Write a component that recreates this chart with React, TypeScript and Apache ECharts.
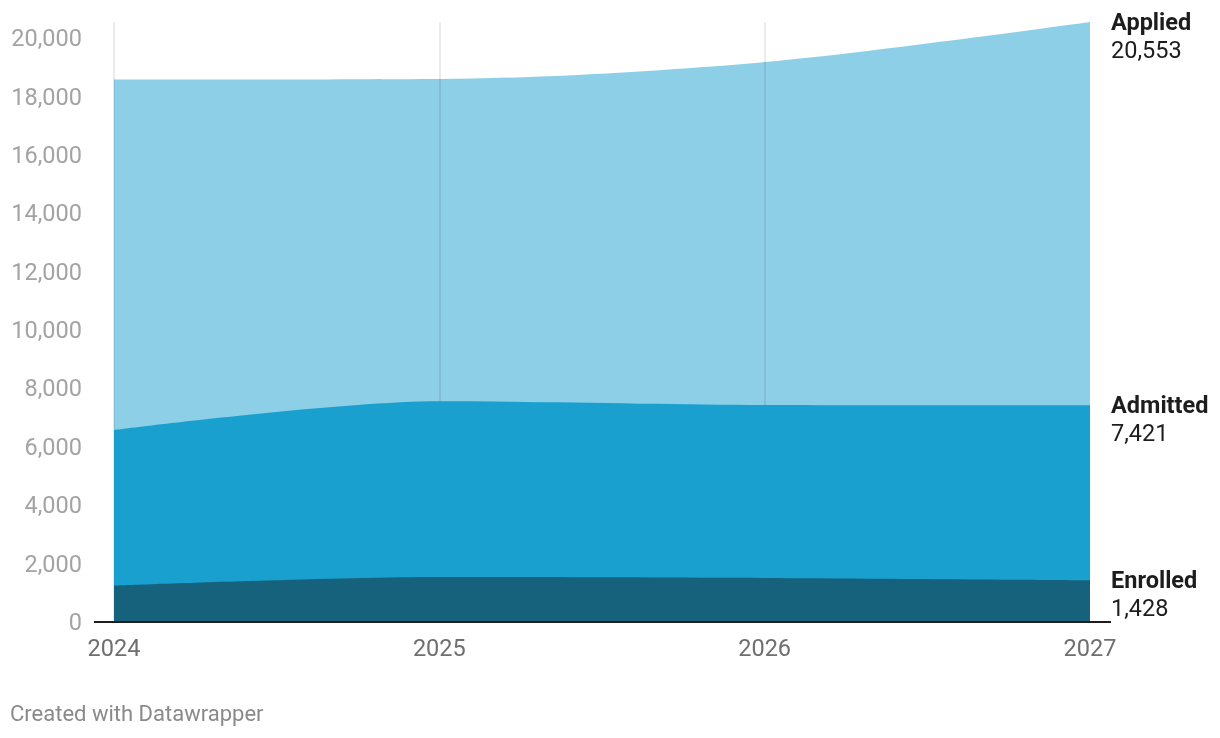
import React, { useEffect, useRef } from "react";
import * as echarts from "echarts";

const years = ["2024", "2025", "2026", "2027"];
const applied = [18580, 18600, 19180, 20553];
const admitted = [6577, 7560, 7433, 7421];
const enrolled = [1243, 1541, 1507, 1428];
const seriesNames = ["Applied", "Admitted", "Enrolled"];
const yTicks = [0, 2000, 4000, 6000, 8000, 10000, 12000, 14000, 16000, 18000, 20000];

const COLORS = ["#8ccfe6", "#19a0ce", "#16627c"];
const FONT = "Roboto";

export default function App() {
  const ref = useRef<HTMLDivElement>(null);
  useEffect(() => {
    if (!ref.current) return;
    const chart = echarts.init(ref.current, null, { renderer: "svg" });
    const values = [applied, admitted, enrolled];
    const fmt = (v: number) => v.toLocaleString("en-US");
    const series: any[] = values.map((vals, i) => ({
      name: seriesNames[i],
      type: "line",
      data: vals,
      smooth: 0.3,
      symbol: "none",
      z: i === 0 ? 1 : 2 + i,
      lineStyle: { width: 0 },
      areaStyle: { color: COLORS[i], opacity: 1 },
      endLabel: {
        show: true,
        distance: 21,
        offset: [0, 14],
        formatter: () => `{a|${seriesNames[i]}}\n{b|${fmt(vals[vals.length - 1])}}`,
        rich: {
          a: { fontFamily: FONT, fontSize: 23.5, fontWeight: "bold", color: "#1d1d1d", lineHeight: 28 },
          b: { fontFamily: FONT, fontSize: 23.5, color: "#1d1d1d", lineHeight: 28 },
        },
        align: "left",
        verticalAlign: "middle",
      },
      markLine:
        i === 0
          ? {
              silent: true,
              z: 2,
              symbol: "none",
              label: { show: false },
              lineStyle: { color: "rgba(0,0,0,0.08)", type: "solid", width: 2 },
              data: [
                [{ xAxis: years[0], yAxis: 20553 }, { xAxis: years[0], yAxis: 0 }],
                [{ xAxis: years[1], yAxis: 20553 }, { xAxis: years[1], yAxis: 0 }],
                [{ xAxis: years[2], yAxis: 20553 }, { xAxis: years[2], yAxis: 0 }],
              ],
            }
          : undefined,
    }));
    chart.setOption({
      animation: false,
      grid: { left: 114, right: 130, top: 22, bottom: 116 },
      xAxis: {
        type: "category",
        data: years,
        boundaryGap: false,
        axisLine: { show: false },
        axisTick: { show: false },
        splitLine: { show: false },
        axisLabel: { fontFamily: FONT, fontSize: 23.5, color: "#6f6f6f", margin: 14 },
      },
      yAxis: {
        type: "value",
        min: 0,
        max: 20553,
        interval: 2000,
        splitLine: { show: false },
        axisLine: { show: false },
        axisTick: { show: false },
        axisLabel: {
          fontFamily: FONT,
          fontSize: 23.5,
          color: "#a3a3a3",
          margin: 32,
          formatter: (v: number) => (yTicks.includes(v) ? fmt(v) : ""),
        },
      },
      series,
      graphic: [
        {
          type: "line",
          shape: { x1: 94, y1: 622, x2: 1111, y2: 622 },
          style: { stroke: "#1d1d1d", lineWidth: 2 },
          z: 10,
        },
        {
          type: "text",
          left: 10,
          top: 702,
          style: { text: "Created with Datawrapper", fontFamily: FONT, fontSize: 22, fill: "#8a8a8a" },
        },
      ],
    });
    return () => chart.dispose();
  }, []);
  return <div ref={ref} style={{ position: "fixed", left: 0, top: 0, width: 1220, height: 738 }} />;
}
